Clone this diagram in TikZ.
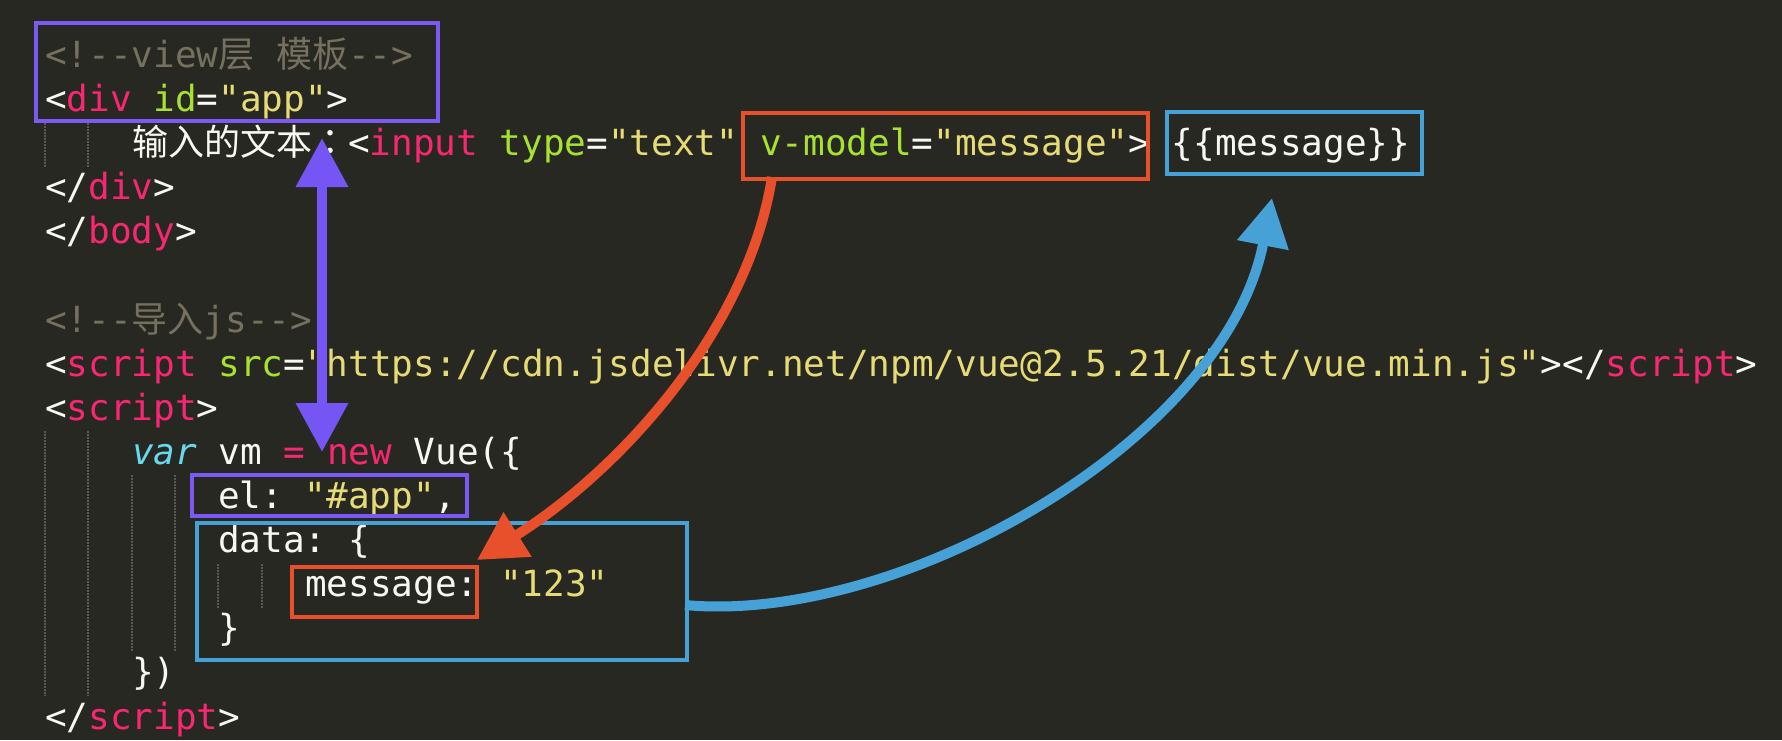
\documentclass[tikz,border=0pt]{standalone}
\usepackage{fontspec}
\setmonofont{DejaVu Sans Mono}
\newfontfamily\cjk{Noto Sans CJK SC}
\newfontfamily\cjktc{Noto Sans CJK TC}
\usetikzlibrary{arrows.meta}
\definecolor{cbg}{HTML}{282823}
\definecolor{ccomment}{HTML}{75715E}
\definecolor{cpink}{HTML}{F92672}
\definecolor{cgreen}{HTML}{A6E22E}
\definecolor{cyellow}{HTML}{E6DB74}
\definecolor{cwhite}{HTML}{F8F8F2}
\definecolor{ccyan}{HTML}{66D9EF}
\definecolor{cpurple}{HTML}{7B59F2}
\definecolor{corange}{HTML}{E8502C}
\definecolor{cblue}{HTML}{46A2D6}
\definecolor{cguide}{HTML}{5A5A50}
\newcommand\cfont{\ttfamily\fontsize{36pt}{44pt}\selectfont}
\newcommand\HPk[1]{\textcolor{cpink}{#1}}
\newcommand\HGr[1]{\textcolor{cgreen}{#1}}
\newcommand\HYl[1]{\textcolor{cyellow}{#1}}
\newcommand\HCm[1]{\textcolor{ccomment}{#1}}
\newcommand\HCy[1]{\textcolor{ccyan}{#1}}
\begin{document}
\begin{tikzpicture}[x=1pt,y=-1pt,
  code/.style={anchor=base west, inner sep=0pt, font=\cfont, text=cwhite},
  hbox/.style={draw=#1, line width=4pt, anchor=north west, inner sep=0pt, rectangle},
  guide/.style={draw=cguide, line width=1.5pt, dash pattern=on 1.5pt off 1.5pt},
  bigarrow/.style={line width=10pt, draw=#1, arrows={-Triangle[length=48pt,width=50pt,fill=#1]}},
]
\fill[cbg] (0,0) rectangle (1782,740);
\useasboundingbox (0,0) rectangle (1782,740);

% indent guides
\draw[guide] (45,123) -- (45,167);
\draw[guide] (88,123) -- (88,167);
\draw[guide] (45,431) -- (45,696);
\draw[guide] (88,431) -- (88,696);
\draw[guide] (132,475) -- (132,652);
\draw[guide] (175,475) -- (175,652);
\draw[guide] (218,564) -- (218,608);
\draw[guide] (262,564) -- (262,608);

% code lines
\node[code] (l1) at (45,67.5) {\HCm{<!--view{\cjk 层} {\cjk 模板}-->}};
\node[code] (l2) at (45,111.6) {<\HPk{div} \HGr{id}=\HYl{"app"}>};
\node[code] (l3) at (132,155.7) {{\cjk 输入的文本}{\cjktc ：}<\HPk{input} \HGr{type}=\HYl{"text"} \HGr{v-model}=\HYl{"message"}> \{\{message\}\}};
\node[code] (l4) at (45,199.8) {</\HPk{div}>};
\node[code] (l5) at (45,243.9) {</\HPk{body}>};
\node[code] (l7) at (45,332.1) {\HCm{<!--{\cjk 导入}js-->}};
\node[code] (l8) at (45,376.2) {<\HPk{script} \HGr{src}=\HYl{"https://cdn.jsdelivr.net/npm/vue@2.5.21/dist/vue.min.js"}></\HPk{script}>};
\node[code] (l9) at (45,420.3) {<\HPk{script}>};
\node[code] (l10) at (132,464.4) {\HCy{\itshape var} vm \HPk{=} \HPk{new} Vue(\{};
\node[code] (l11) at (218,508.5) {el: \HYl{"\#app"},};
\node[code] (l12) at (218,552.6) {data: \{};
\node[code] (l13) at (305,596.7) {message: \HYl{"123"}};
\node[code] (l14) at (218,640.8) {\}};
\node[code] (l15) at (132,684.9) {\})};
\node[code] (l16) at (45,729.0) {</\HPk{script}>};

% highlight boxes
\node[hbox=cpurple, minimum width=402pt, minimum height=98pt] (pb1) at (34,21) {};
\node[hbox=corange, minimum width=405pt, minimum height=66pt] (ob1) at (741,111) {};
\node[hbox=cblue, minimum width=255pt, minimum height=62pt] (bb1) at (1165,110) {};
\node[hbox=cpurple, minimum width=275pt, minimum height=41pt] (pb2) at (190,473) {};
\node[hbox=cblue, minimum width=490pt, minimum height=137pt] (bb2) at (195,521) {};
\node[hbox=corange, minimum width=185pt, minimum height=50pt] (ob2) at (290,565) {};

% arrow end points
\coordinate (pTop) at (322,138);
\coordinate (pBot) at (322,452);
\coordinate (oStart) at (772,177);
\coordinate (oEnd) at (477,560);
\coordinate (bStart) at (685,605);
\coordinate (bEnd) at (1272,198);

% purple double arrow
\draw[line width=10pt, draw=cpurple!95!blue,
  arrows={Triangle[length=49pt,width=50pt]-Triangle[length=49pt,width=50pt]}] (pTop) -- (pBot);

% orange arrow
\draw[bigarrow=corange] (oStart) .. controls (748,330) and (620,470) .. (oEnd);

% blue arrow
\draw[bigarrow=cblue] (bStart) .. controls (900,625) and (1225,440) .. (bEnd);
\end{tikzpicture}
\end{document}
